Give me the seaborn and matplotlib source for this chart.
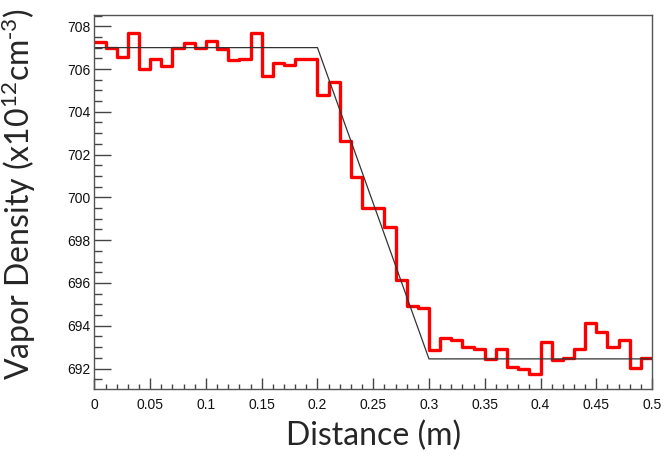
import numpy as np
import pandas as pd
import seaborn as sns
import matplotlib.pyplot as plt
from matplotlib.ticker import MultipleLocator, FuncFormatter

# measured vapor density in 0.01 m bins
bin_edges = np.linspace(0, 0.5, 51)
density = [707.28, 706.96, 706.55, 707.70, 706.00, 706.48, 706.12, 707.00, 707.21, 706.97,
           707.33, 706.94, 706.43, 706.49, 707.67, 705.68, 706.27, 706.21, 706.49, 706.49,
           704.80, 705.38, 702.65, 700.96, 699.52, 699.52, 698.61, 696.14, 694.93, 694.81,
           692.88, 693.42, 693.34, 693.02, 692.91, 692.44, 692.91, 692.06, 691.98, 691.74,
           693.22, 692.40, 692.49, 692.91, 694.15, 693.72, 692.99, 693.34, 692.02, 692.47]
# model profile (flat - linear drop - flat)
model_x = [0, 0.2, 0.3, 0.5]
model_y = [707.0, 707.0, 692.45, 692.45]

sns.set_style("white")
plt.rcParams['font.family'] = ['Liberation Sans', 'DejaVu Sans']
plt.rcParams['mathtext.default'] = 'regular'

fig = plt.figure(figsize=(6.65, 4.58), dpi=100)
ax = fig.add_axes([0.142, 0.151, 0.8385, 0.8165])

df = pd.DataFrame({"distance": bin_edges, "density": density + [density[-1]]})
sns.lineplot(data=df, x="distance", y="density", drawstyle="steps-post",
             estimator=None, color="red", lw=2.4, ax=ax)
sns.lineplot(x=model_x, y=model_y, color="#333333", lw=0.9, ax=ax)

ax.set_xlim(0, 0.5)
ax.set_ylim(691.05, 708.53)

ax.xaxis.set_major_locator(MultipleLocator(0.05))
ax.xaxis.set_minor_locator(MultipleLocator(0.01))
ax.yaxis.set_major_locator(MultipleLocator(2))
ax.yaxis.set_minor_locator(MultipleLocator(0.5))
ax.xaxis.set_major_formatter(FuncFormatter(lambda v, p: f"{v:g}"))

ax.tick_params(axis='both', which='both', direction='in', colors='#444444',
               labelcolor='#111111', width=1, bottom=True, left=True,
               top=False, right=False)
ax.tick_params(axis='x', which='major', length=8, pad=6.5, labelsize=10)
ax.tick_params(axis='x', which='minor', length=3.8)
ax.tick_params(axis='y', which='major', length=12, pad=3, labelsize=10)
ax.tick_params(axis='y', which='minor', length=6)
for s in ax.spines.values():
    s.set_color('#555555')
    s.set_linewidth(1)

ax.set_xlabel("Distance (m)", fontsize=23, family=['Lato', 'DejaVu Sans'])
ax.set_ylabel(r"Vapor Density (x10$^{12}$cm$^{\text{-}3}$)", fontsize=23,
              family=['Lato', 'DejaVu Sans'])
ax.xaxis.set_label_coords(0.5, -0.085)
ax.yaxis.set_label_coords(-0.101, 0.521)

plt.savefig("out.png", dpi=100)
